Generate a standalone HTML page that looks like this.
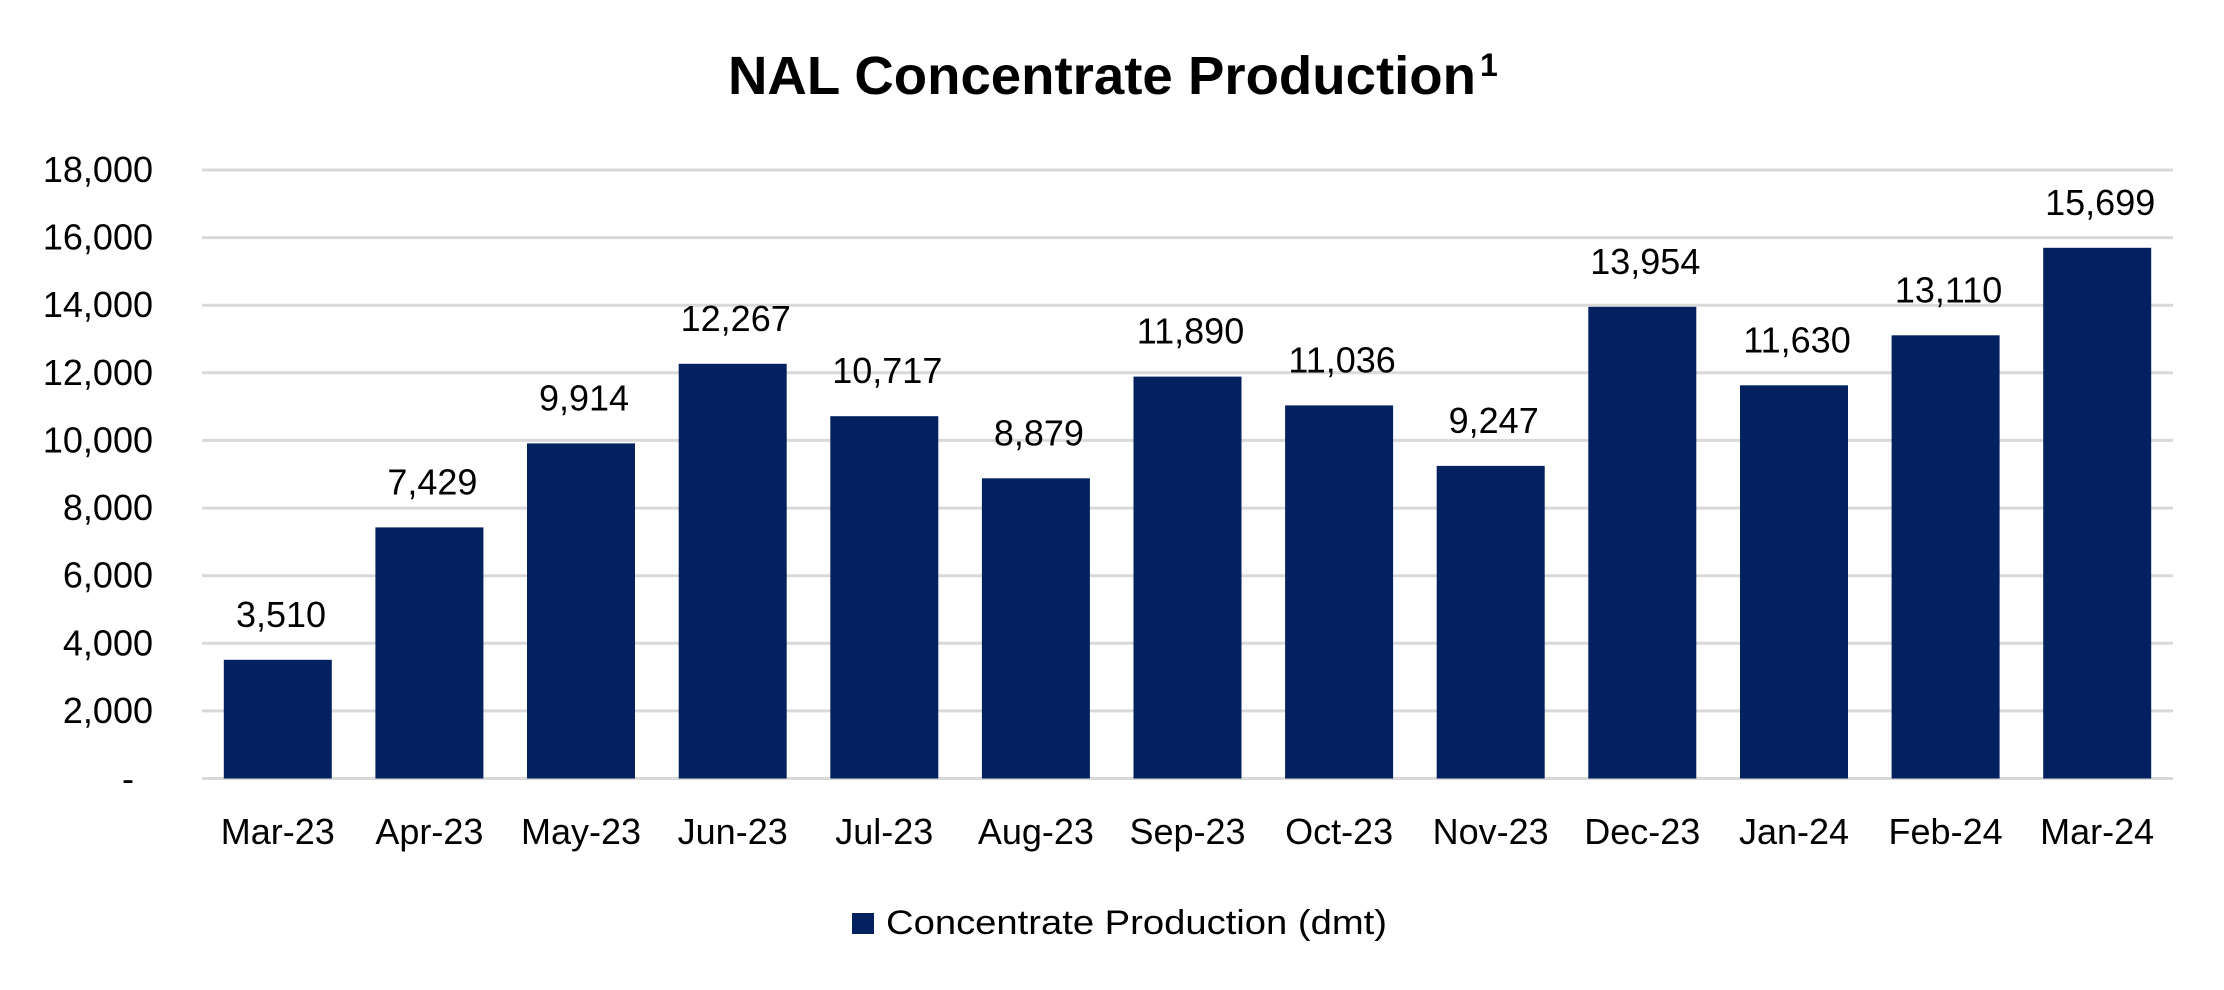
<!DOCTYPE html>
<html>
<head>
<meta charset="utf-8">
<style>
  html, body { margin: 0; padding: 0; background: #ffffff; }
  svg { display: block; }
  text { font-family: "Liberation Sans", Arial, sans-serif; fill: #000; }
</style>
</head>
<body>
<svg width="2224" height="990" viewBox="0 0 2224 990" xmlns="http://www.w3.org/2000/svg">
  <rect x="0" y="0" width="2224" height="990" fill="#ffffff"/>

  <!-- Title -->
  <text x="728" y="94" font-size="54" font-weight="bold" textLength="748" lengthAdjust="spacingAndGlyphs">NAL Concentrate Production</text>
  <text x="1480" y="76" font-size="32" font-weight="bold">1</text>

  <!-- Gridlines -->
  <g stroke="#d9d9d9" stroke-width="3">
    <line x1="202" y1="170" x2="2173" y2="170"/>
    <line x1="202" y1="237.6" x2="2173" y2="237.6"/>
    <line x1="202" y1="305.2" x2="2173" y2="305.2"/>
    <line x1="202" y1="372.8" x2="2173" y2="372.8"/>
    <line x1="202" y1="440.4" x2="2173" y2="440.4"/>
    <line x1="202" y1="508.1" x2="2173" y2="508.1"/>
    <line x1="202" y1="575.7" x2="2173" y2="575.7"/>
    <line x1="202" y1="643.3" x2="2173" y2="643.3"/>
    <line x1="202" y1="710.9" x2="2173" y2="710.9"/>
    <line x1="202" y1="778.5" x2="2173" y2="778.5"/>
  </g>

  <!-- Y axis labels -->
  <g font-size="36" text-anchor="end">
    <text x="153" y="182">18,000</text>
    <text x="153" y="249.6">16,000</text>
    <text x="153" y="317.2">14,000</text>
    <text x="153" y="384.8">12,000</text>
    <text x="153" y="452.4">10,000</text>
    <text x="153" y="520.1">8,000</text>
    <text x="153" y="587.7">6,000</text>
    <text x="153" y="655.3">4,000</text>
    <text x="153" y="722.9">2,000</text>
    <text x="134" y="791">-</text>
  </g>

  <!-- Bars -->
  <g fill="#03215f">
    <rect x="223.8" y="659.8" width="108" height="118.7"/>
    <rect x="375.4" y="527.4" width="108" height="251.1"/>
    <rect x="527.0" y="443.4" width="108" height="335.1"/>
    <rect x="678.7" y="363.8" width="108" height="414.7"/>
    <rect x="830.3" y="416.2" width="108" height="362.3"/>
    <rect x="981.9" y="478.3" width="108" height="300.2"/>
    <rect x="1133.5" y="376.6" width="108" height="401.9"/>
    <rect x="1285.1" y="405.4" width="108" height="373.1"/>
    <rect x="1436.7" y="465.9" width="108" height="312.6"/>
    <rect x="1588.3" y="306.8" width="108" height="471.7"/>
    <rect x="1740.0" y="385.3" width="108" height="393.2"/>
    <rect x="1891.6" y="335.3" width="108" height="443.2"/>
    <rect x="2043.2" y="247.8" width="108" height="530.7"/>
  </g>

  <!-- Value labels -->
  <g font-size="36" text-anchor="middle">
    <text x="281" y="627">3,510</text>
    <text x="432.4" y="494.4">7,429</text>
    <text x="584" y="410.4">9,914</text>
    <text x="735.7" y="330.8">12,267</text>
    <text x="887.3" y="383.2">10,717</text>
    <text x="1038.9" y="445.3">8,879</text>
    <text x="1190.5" y="343.6">11,890</text>
    <text x="1342.1" y="372.4">11,036</text>
    <text x="1493.7" y="432.9">9,247</text>
    <text x="1645.3" y="273.8">13,954</text>
    <text x="1797" y="352.3">11,630</text>
    <text x="1948.6" y="302.3">13,110</text>
    <text x="2100.2" y="214.8">15,699</text>
  </g>

  <!-- X axis labels -->
  <g font-size="36" text-anchor="middle">
    <text x="277.8" y="844">Mar-23</text>
    <text x="429.4" y="844">Apr-23</text>
    <text x="581.0" y="844">May-23</text>
    <text x="732.7" y="844">Jun-23</text>
    <text x="884.3" y="844">Jul-23</text>
    <text x="1035.9" y="844">Aug-23</text>
    <text x="1187.5" y="844">Sep-23</text>
    <text x="1339.1" y="844">Oct-23</text>
    <text x="1490.7" y="844">Nov-23</text>
    <text x="1642.3" y="844">Dec-23</text>
    <text x="1794.0" y="844">Jan-24</text>
    <text x="1945.6" y="844">Feb-24</text>
    <text x="2097.2" y="844">Mar-24</text>
  </g>

  <!-- Legend -->
  <rect x="852" y="913" width="22" height="21" fill="#03215f"/>
  <text x="886" y="934" font-size="34" textLength="501" lengthAdjust="spacingAndGlyphs">Concentrate Production (dmt)</text>
</svg>
</body>
</html>
